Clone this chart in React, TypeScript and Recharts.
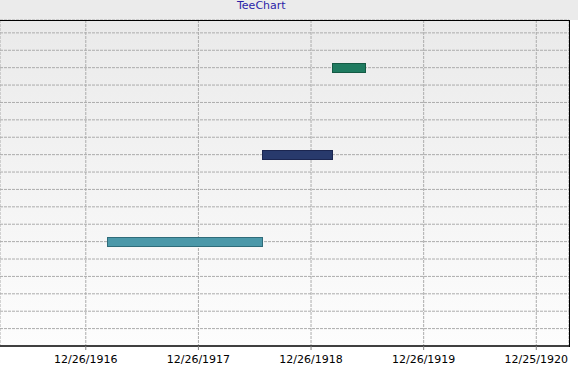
import React from 'react';
import { ComposedChart, Bar, XAxis, YAxis, CartesianGrid, Cell } from 'recharts';

// gantt tasks
const taskRows = [6, 11, 16];
const taskStarts = ['1917-03-08', '1918-07-21', '1919-03-07'];
const taskEnds = ['1918-07-21', '1919-03-05', '1919-06-20'];
const taskFills = ['#4b98a9', '#283a6c', '#1f7b60'];
const taskStrokes = ['#2f6c7a', '#1b2650', '#145a44'];

// x axis
const tickDates = ['1916-12-26', '1917-12-26', '1918-12-26', '1919-12-26', '1920-12-25'];
const tickLabels = ['12/26/1916', '12/26/1917', '12/26/1918', '12/26/1919', '12/25/1920'];
const axisStart = '1916-03-23';
const axisEnd = '1921-04-10';

// y axis (gridlines)
const rowTicks = [1, 2, 3, 4, 5, 6, 7, 8, 9, 10, 11, 12, 13, 14, 15, 16, 17, 18];
const rowMax = 18.74;

const ms = (d: string) => new Date(d + 'T00:00:00Z').getTime();

const data = taskRows.map((row, i) => ({
  row,
  range: [ms(taskStarts[i]), ms(taskEnds[i])],
}));

const majorTicks = tickDates.map(ms);
const step = (majorTicks[1] - majorTicks[0]) / 4;
const minorTicks: number[] = [];
for (let t = majorTicks[0] - 3 * step; t < ms(axisEnd); t += step) minorTicks.push(t);

const labelFor = (v: number) => {
  const i = majorTicks.indexOf(v);
  return i >= 0 ? tickLabels[i] : '';
};

const App: React.FC = () => {
  return (
    <div style={{ position: 'absolute', left: 0, top: 0, width: 578, height: 370, background: '#ffffff' }}>
      <div style={{ position: 'absolute', left: 0, top: 0, width: 578, height: 20, background: '#ebebeb' }} />
      <div
        style={{
          position: 'absolute',
          left: 237,
          top: -2,
          lineHeight: '16px',
          fontFamily: '"DejaVu Sans", sans-serif',
          fontSize: 11,
          color: '#2b1fa8',
        }}
      >
        TeeChart
      </div>
      <ComposedChart
        width={578}
        height={370}
        data={data}
        layout="vertical"
        margin={{ top: 20, right: 9, bottom: 0, left: 0 }}
        style={{ position: 'absolute', left: 0, top: 0 }}
      >
        <defs>
          <linearGradient id="plotBg" x1="0" y1="0" x2="0" y2="1">
            <stop offset="0%" stopColor="#eaeaea" />
            <stop offset="100%" stopColor="#fdfdfd" />
          </linearGradient>
        </defs>
        <CartesianGrid fill="url(#plotBg)" stroke="#acacac" strokeDasharray="3 1" />
        <XAxis
          xAxisId="minor"
          type="number"
          domain={[ms(axisStart), ms(axisEnd)]}
          ticks={minorTicks}
          tick={false}
          tickSize={2}
          tickLine={{ stroke: '#a0a0a0' }}
          axisLine={false}
          height={0}
          allowDataOverflow
        />
        <XAxis
          type="number"
          domain={[ms(axisStart), ms(axisEnd)]}
          ticks={majorTicks}
          tickFormatter={labelFor}
          tick={{ fill: '#000000', fontSize: 11, fontFamily: '"DejaVu Sans", sans-serif', dy: 3 }}
          tickSize={4}
          tickLine={{ stroke: '#808080' }}
          axisLine={{ stroke: '#404040', strokeWidth: 2 }}
          height={24}
          interval={0}
          allowDataOverflow
        />
        <YAxis
          type="number"
          dataKey="row"
          domain={[0, rowMax]}
          ticks={rowTicks}
          interval={0}
          reversed
          hide
          allowDataOverflow
        />
        <Bar dataKey="range" barSize={9} isAnimationActive={false} shapeRendering="crispEdges">
          {data.map((d, i) => (
            <Cell key={i} fill={taskFills[i]} stroke={taskStrokes[i]} strokeWidth={1} />
          ))}
        </Bar>
      </ComposedChart>
      <div style={{ position: 'absolute', left: 0, top: 20, width: 570, height: 1, background: '#000' }} />
      <div style={{ position: 'absolute', left: 569, top: 20, width: 1, height: 327, background: '#000' }} />
    </div>
  );
};

export default App;
